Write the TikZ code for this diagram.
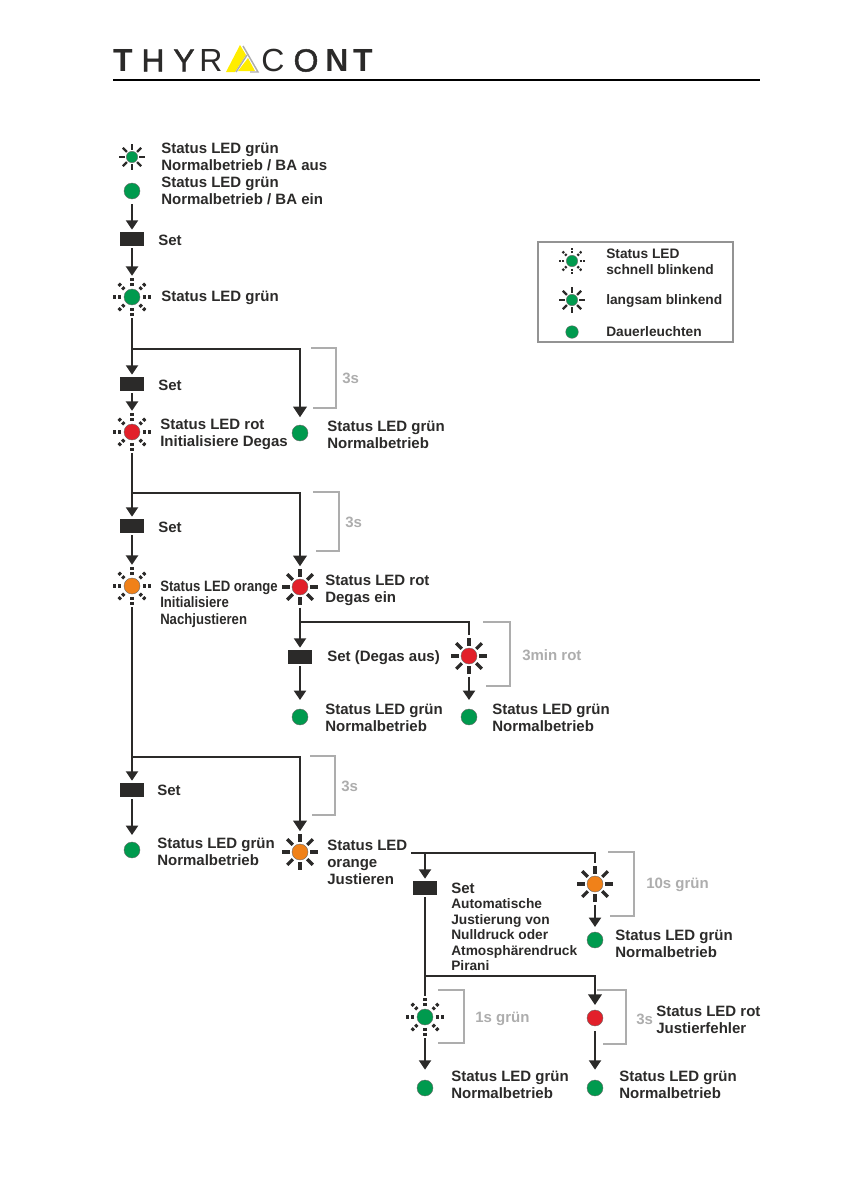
\documentclass[tikz,border=0pt]{standalone}
\usepackage{fontspec}
\setmainfont{Liberation Sans}
\newfontfamily\narrowfont[FakeStretch=0.875]{Liberation Sans}
\newfontfamily\logomid[FakeBold=1.4]{Liberation Sans}
\usetikzlibrary{arrows.meta}

\definecolor{ledgreen}{HTML}{009A4E}
\definecolor{ledred}{HTML}{E2202A}
\definecolor{ledorange}{HTML}{F08119}
\definecolor{inkdark}{HTML}{2B2A29}
\definecolor{bracketgray}{HTML}{ADADAD}
\definecolor{logoyellow}{HTML}{FFED00}

\tikzset{
  steadyled/.style 2 args={circle,draw=inkdark!70,line width=.3pt,fill=#1,minimum size=#2*1.5pt,inner sep=0pt,outer sep=3.75pt},
  slowled/.style 2 args={circle,minimum size=#2*3.5pt,inner sep=0pt,outer sep=1.5pt,path picture={
    \begin{scope}[shift={(path picture bounding box.center)}]
    \foreach \a in {0,45,...,315}
      \draw[inkdark,line width=#2*.3pt] (\a:#2*1.27) -- (\a:#2*2.27);
    \fill[#1,draw=inkdark!70,line width=.3pt] (0,0) circle (#2);
    \end{scope}}},
  fastled/.style 2 args={circle,minimum size=#2*3.6pt,inner sep=0pt,outer sep=1.5pt,path picture={
    \begin{scope}[shift={(path picture bounding box.center)}]
    \foreach \a in {0,45,...,315}
      \draw[inkdark,line width=#2*.3pt,dash pattern=on #2*.28pt off #2*.19pt] (\a:#2*1.35) -- (\a:#2*2.35);
    \fill[#1,draw=inkdark!70,line width=.3pt] (0,0) circle (#2);
    \end{scope}}},
  setbox/.style={rectangle,fill=inkdark,minimum width=18pt,minimum height=10pt,inner sep=0pt,outer sep=2pt},
  flow/.style={draw=inkdark,line width=1.5pt,-{Triangle[length=7pt,width=9pt]}},
  trunk/.style={draw=inkdark,line width=1.5pt},
  branch/.style={draw=inkdark,line width=1.9pt},
  branchtip/.style={branch,-{Triangle[length=8pt,width=10pt]}},
  timer/.style={draw=bracketgray,line width=2pt},
  label/.style={anchor=west,align=left,inner sep=0pt,text=inkdark,font=\fontsize{11.25}{12.75}\selectfont\bfseries},
  smalllabel/.style={label,font=\fontsize{10.3}{11.6}\selectfont\bfseries},
  timelabel/.style={label,text=bracketgray},
  logoheavy/.style={inner sep=0pt,text=inkdark,font=\fontsize{24}{24}\selectfont\bfseries},
  logomedium/.style={inner sep=0pt,text=inkdark,font=\fontsize{24}{24}\logomid},
  logolight/.style={inner sep=0pt,text=inkdark,font=\fontsize{24}{24}\selectfont}
}

\begin{document}
\begin{tikzpicture}[x=.75pt,y=-.75pt]
\useasboundingbox (0,0) rectangle (840,1192);

% logo
\node[logoheavy] (logoT) at (123,60.5) {T};
\node[logomedium] (logoH) at (153,60.5) {H};
\node[logomedium] (logoY) at (184,60.5) {Y};
\node[logolight] (logoR) at (211,60.5) {R};
\fill[logoyellow] (240,45) -- (246,55) -- (235,72) -- (226,72) -- cycle;
\fill[logoyellow] (248,58) -- (255,71) -- (238,71) -- cycle;
\draw[bracketgray,line width=1.1pt] (243,46) -- (258,72) -- (250,72);
\draw[bracketgray,line width=1.1pt] (247,55) -- (236,72);
\node[logolight] (logoC) at (273,60.5) {C};
\node[logomedium] (logoO) at (306,60.5) {O};
\node[logoheavy] (logoN) at (337,60.5) {N};
\node[logoheavy] (logoTT) at (363,60.5) {T};
\draw[black,line width=.8pt] (113,80) -- (760,80);

% legend
\draw[bracketgray!85!black,line width=.8pt] (538,242) rectangle (733,342);
\node[fastled={ledgreen}{5.7}] (keyFast) at (572,261) {};
\node[slowled={ledgreen}{5.7}] (keySlow) at (572,300) {};
\node[steadyled={ledgreen}{6.3}] (keySteady) at (572,332) {};
\node[smalllabel] (keyFastText) at (606,262) {Status LED\\schnell blinkend};
\node[smalllabel] (keySlowText) at (606,301) {langsam blinkend};
\node[smalllabel] (keySteadyText) at (606,332) {Dauerleuchten};

% left column
\node[slowled={ledgreen}{5.7}] (ledA) at (132,157) {};
\node[steadyled={ledgreen}{8}] (ledB) at (132,191) {};
\node[setbox] (setA) at (132,239) {};
\node[fastled={ledgreen}{8}] (ledC) at (132,297) {};
\node[setbox] (setB) at (132,384) {};
\node[fastled={ledred}{8}] (ledD) at (132,432) {};
\node[setbox] (setC) at (132,526) {};
\node[fastled={ledorange}{8}] (ledE) at (132,586) {};
\node[setbox] (setD) at (132,790) {};
\node[steadyled={ledgreen}{8}] (ledF) at (132,850) {};

% middle column
\node[steadyled={ledgreen}{8}] (ledG) at (300,433) {};
\node[slowled={ledred}{8}] (ledH) at (300,587) {};
\node[setbox] (setE) at (300,657) {};
\node[steadyled={ledgreen}{8}] (ledI) at (300,717) {};
\node[slowled={ledorange}{8}] (ledJ) at (300,852) {};

% right columns
\node[slowled={ledred}{8}] (ledK) at (469,656) {};
\node[steadyled={ledgreen}{8}] (ledL) at (469,717) {};
\node[setbox] (setF) at (425,888) {};
\node[fastled={ledgreen}{8}] (ledM) at (425,1017) {};
\node[steadyled={ledgreen}{8}] (ledN) at (425,1088) {};
\node[slowled={ledorange}{8}] (ledO) at (595,884) {};
\node[steadyled={ledgreen}{8}] (ledP) at (595,940) {};
\node[steadyled={ledred}{8}] (ledQ) at (595,1018) {};
\node[steadyled={ledgreen}{8}] (ledR) at (595,1088) {};

% branch points
\coordinate (brA) at (132,349);
\coordinate (brB) at (132,493);
\coordinate (brC) at (300,622);
\coordinate (brD) at (132,757);
\coordinate (brE) at (411,853);
\coordinate (brF) at (425,853);
\coordinate (brG) at (425,976);

% connectors
\draw[flow] (ledB) -- (setA);
\draw[flow] (setA) -- (ledC);
\draw[flow] (ledC) -- (setB);
\draw[flow] (setB) -- (ledD);
\draw[flow] (ledD) -- (setC);
\draw[flow] (setC) -- (ledE);
\draw[flow] (ledE) -- (setD);
\draw[flow,shorten >=1.5pt] (setD) -- (ledF);
\draw[flow] (ledH) -- (setE);
\draw[flow,shorten >=3pt] (setE) -- (ledI);
\draw[flow,shorten >=3pt] (ledK) -- (ledL);
\draw[flow] (brF) -- (setF);
\draw[flow] (ledO) -- (ledP);
\draw[trunk] (setF) -- (ledM);
\draw[flow,shorten >=4pt] (ledM) -- (ledN);
\draw[flow,shorten >=4pt] (ledQ) -- (ledR);

\draw[branchtip,shorten >=2pt] (brA) -| (ledG);
\draw[branchtip] (brB) -| (ledH);
\draw[branch] (brC) -| (ledK);
\draw[branchtip] (brD) -| (ledJ);
\draw[branch] (brE) -| (ledO);
\draw[branchtip] (brG) -| (ledQ);

% timers
\draw[timer] (311,348) -- (336,348) -- (336,408) -- (313,408);
\draw[timer] (313,492) -- (339,492) -- (339,551) -- (316,551);
\draw[timer] (483,622) -- (510,622) -- (510,686) -- (486,686);
\draw[timer] (310,756) -- (335,756) -- (335,815) -- (312,815);
\draw[timer] (608,852) -- (634,852) -- (634,916) -- (610,916);
\draw[timer] (438,990) -- (464,990) -- (464,1043) -- (438,1043);
\draw[timer] (597,990) -- (626,990) -- (626,1044) -- (603,1044);

\node[timelabel] (timeA) at (342,378) {3s};
\node[timelabel] (timeB) at (345,522) {3s};
\node[timelabel] (timeC) at (522,655) {3min rot};
\node[timelabel] (timeD) at (341,786) {3s};
\node[timelabel] (timeE) at (646,885) {10s grün};
\node[timelabel] (timeF) at (475,1019) {1s grün};
\node[timelabel] (timeG) at (636,1019) {3s};

% labels
\node[label] (textA) at (161,157) {Status LED grün\\Normalbetrieb / BA aus};
\node[label] (textB) at (161,191) {Status LED grün\\Normalbetrieb / BA ein};
\node[label] (textC) at (158,240) {Set};
\node[label] (textD) at (161,298) {Status LED grün};
\node[label] (textE) at (158,385) {Set};
\node[label] (textF) at (160,434) {Status LED rot\\Initialisiere Degas};
\node[label] (textG) at (327,434.5) {Status LED grün\\Normalbetrieb};
\node[label] (textH) at (158,527) {Set};
\node[label,font=\fontsize{11.25}{12.4}\narrowfont\bfseries] (textI) at (160,604) {Status LED orange\\Initialisiere\\Nachjustieren};
\node[label] (textJ) at (325,590) {Status LED rot\\Degas ein};
\node[label] (textK) at (327,658) {Set (Degas aus)};
\node[label] (textL) at (325,718) {Status LED grün\\Normalbetrieb};
\node[label] (textM) at (492,718) {Status LED grün\\Normalbetrieb};
\node[label] (textN) at (157,790) {Set};
\node[label] (textO) at (157,852) {Status LED grün\\Normalbetrieb};
\node[label] (textP) at (327,862) {Status LED\\orange\\Justieren};
\node[label] (textQ) at (451,888) {Set};
\node[smalllabel] (textR) at (451,935) {Automatische\\Justierung von\\Nulldruck oder\\Atmosphärendruck\\Pirani};
\node[label] (textS) at (615,943.5) {Status LED grün\\Normalbetrieb};
\node[label] (textT) at (656,1020) {Status LED rot\\Justierfehler};
\node[label] (textU) at (451,1084.5) {Status LED grün\\Normalbetrieb};
\node[label] (textV) at (619,1084.5) {Status LED grün\\Normalbetrieb};

\end{tikzpicture}
\end{document}
